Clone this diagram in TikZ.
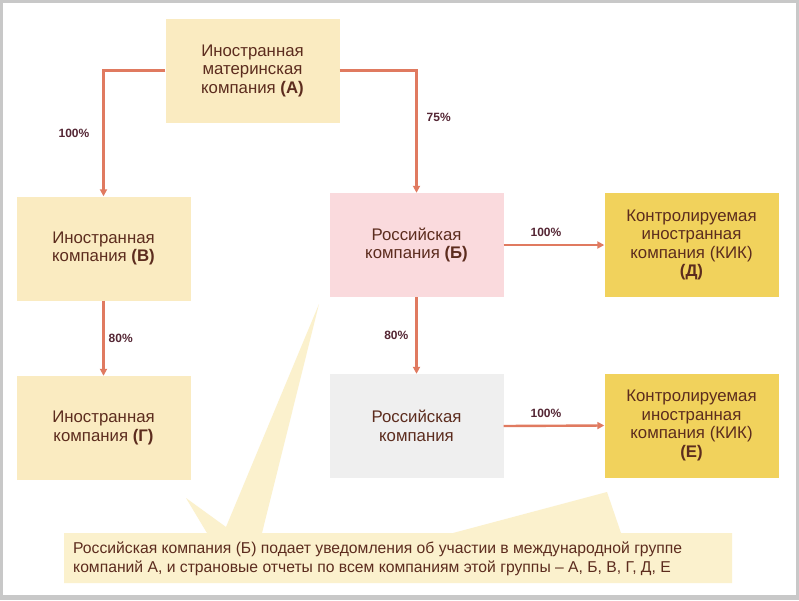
\documentclass[tikz,border=0pt]{standalone}
\usepackage{fontspec}
\setmainfont{Liberation Sans}
\usetikzlibrary{positioning}
\usetikzlibrary{arrows.meta}

\definecolor{framegray}{RGB}{200,200,200}
\definecolor{boxyellow}{RGB}{250,235,193}
\definecolor{notefill}{RGB}{251,241,205}
\definecolor{boxpink}{RGB}{250,218,221}
\definecolor{boxgray}{RGB}{239,239,239}
\definecolor{kikgold}{RGB}{241,210,92}
\definecolor{arrowred}{RGB}{224,122,96}
\definecolor{textbrown}{RGB}{92,44,30}
\definecolor{pcttext}{RGB}{84,38,52}

\begin{document}
\begin{tikzpicture}[
        x=1pt, y=-1pt,
        >={Triangle[length=7pt,width=7pt]},
        company/.style={rectangle, fill=boxyellow, text=textbrown, minimum width=174pt, minimum height=104pt, inner sep=0pt, align=center, font=\fontsize{16.8}{18.5}\selectfont},
        kikbox/.style={company, fill=kikgold},
        pct/.style={font=\fontsize{12}{14}\selectfont\bfseries, text=pcttext, inner sep=1pt},
        link/.style={->, line width=2.4pt, draw=arrowred}
    ]

    % frame
    \fill[framegray] (0,0) rectangle (799,600);
    \fill[white] (3,3) rectangle (796,595);

    % note with pointers
    \fill[notefill] (64,533) -- (207,533) -- (186,498) -- (226,527) -- (319,304) -- (262,533)
        -- (453,533) -- (607,492) -- (621,533) -- (732,533) -- (732,583) -- (64,583) -- cycle;
    \node [anchor=west, align=left, text=textbrown, inner sep=0pt, font=\fontsize{15.7}{19}\selectfont] (Note) at (73,559)
        {Российская компания (Б) подает уведомления об участии в международной группе\\компаний А, и страновые отчеты по всем компаниям этой группы -- А, Б, В, Г, Д, Е};

    \node [company] (CompA) at (252.5,70.5) {Иностранная\\материнская\\компания \textbf{(А)}};
    \node [company] (CompV) at (103.5,248.5) {Иностранная\\компания \textbf{(В)}};
    \node [company] (CompG) at (103.5,428) {Иностранная\\компания \textbf{(Г)}};
    \node [company, fill=boxpink] (CompB) at (416.5,245) {Российская\\компания \textbf{(Б)}};
    \node [company, fill=boxgray] (CompR) at (416.5,426) {Российская\\компания};
    \node [kikbox] (CompD) at (691.5,245) {Контролируемая\\иностранная\\компания (КИК)\\\textbf{(Д)}};
    \node [kikbox] (CompE) at (691.5,425.5) {Контролируемая\\иностранная\\компания (КИК)\\\textbf{(Е)}};

    \draw[link] (CompA.west) -| node [pct, pos=0.75, left=12pt] {100\%} (CompV.north);
    \draw[link] (CompA.east) -| node [pct, pos=0.69, right=8pt] {75\%} (CompB.north);
    \draw[link] (CompV.south) -- node [pct, right=3pt] {80\%} (CompG.north);
    \draw[link] (CompB.south) -- node [pct, left=6pt] {80\%} (CompR.north);
    \draw[link] (CompB.east) -- node [pct, pos=0.42, above=6pt] {100\%} (CompD.west);
    \draw[link] (CompR.east) -- node [pct, pos=0.42, above=6pt] {100\%} (CompE.west);

\end{tikzpicture}
\end{document}
